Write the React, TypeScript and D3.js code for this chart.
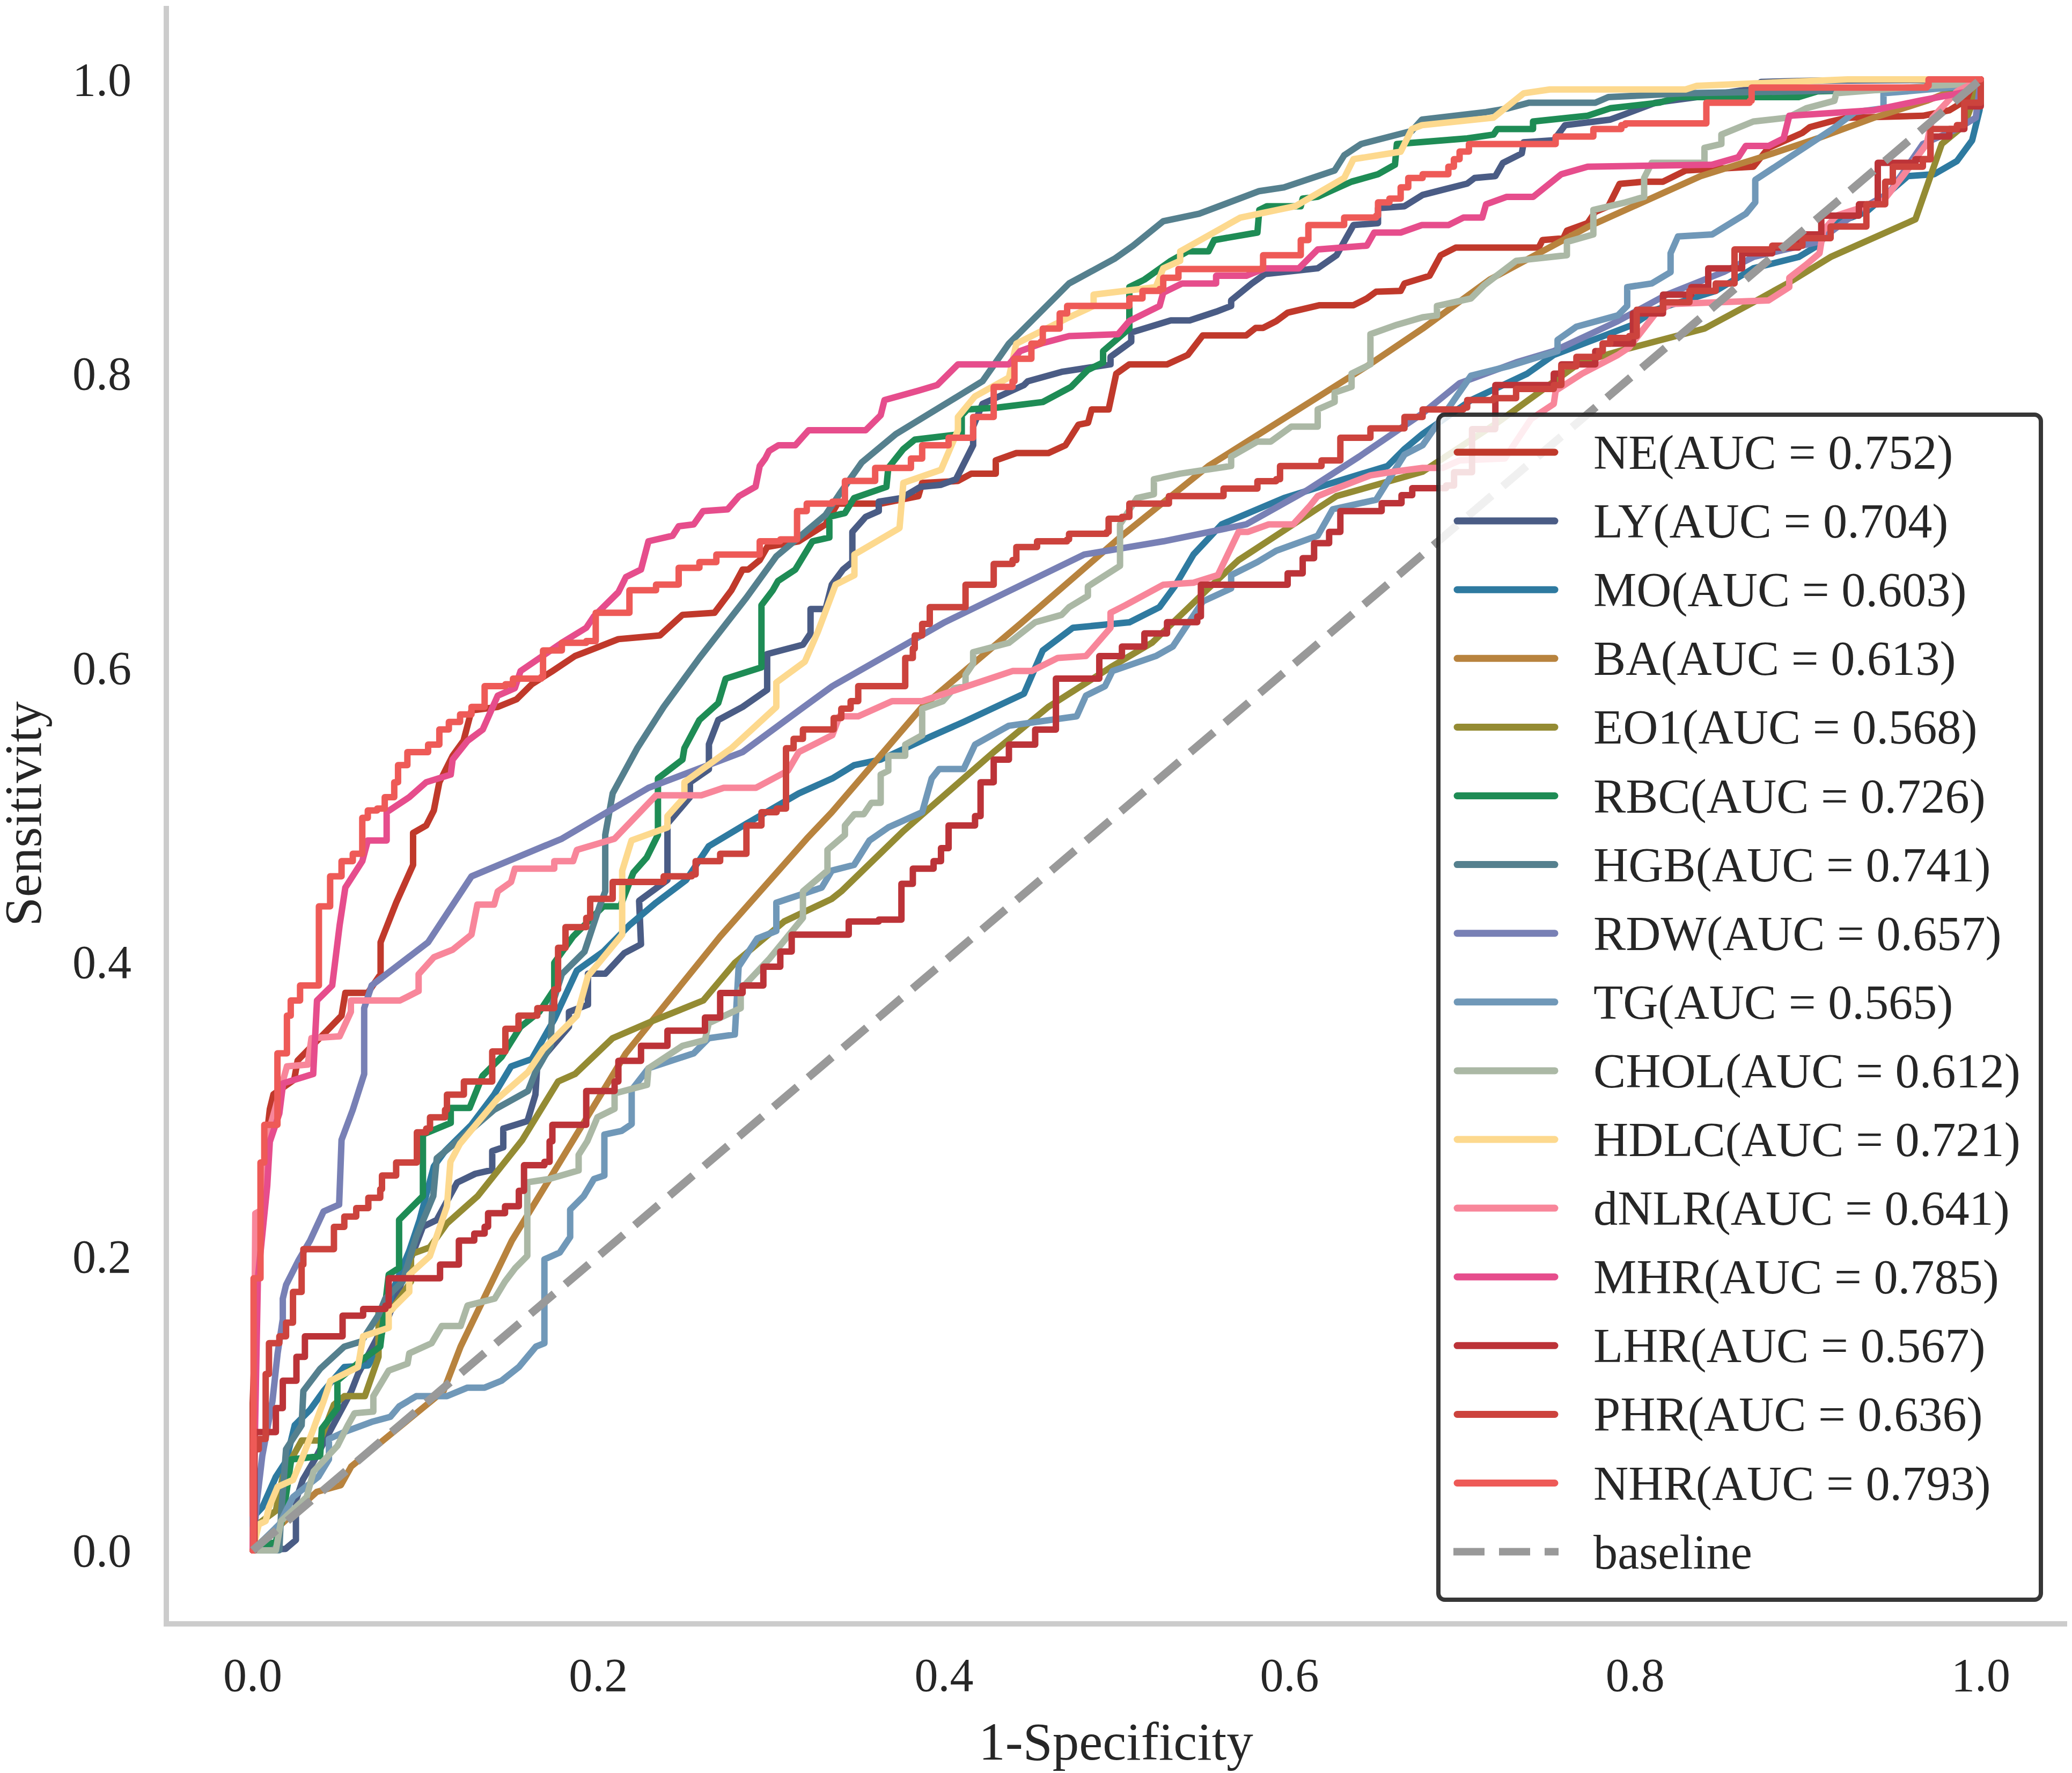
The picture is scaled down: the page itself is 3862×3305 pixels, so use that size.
import React from "react";
import * as d3 from "d3";

type Pt = [number, number];

const NE: Pt[] = [[0,0],[0,.1],[.003,.2],[.008,.28],[.0099,.3],[.012,.31],[.024,.32],[.026,.333],[.043,.3533],[.0514,.3635],[.0536,.379],[.0666,.379],[.074,.3917],[.074,.4134],[.083,.4403],[.0928,.466],[.0928,.4877],[.1004,.4928],[.1048,.503],[.108,.5222],[.1156,.54],[.122,.5504],[.1266,.571],[.1418,.5734],[.1527,.5786],[.1615,.5888],[.1735,.5978],[.1865,.608],[.195,.6118],[.2116,.6195],[.2356,.622],[.2487,.636],[.2672,.6374],[.277,.6527],[.2835,.6668],[.2868,.6668],[.2934,.6732],[.2977,.6821],[.316,.686],[.3315,.6975],[.3384,.7116],[.3634,.7116],[.3852,.7167],[.3874,.7257],[.4081,.727],[.4158,.732],[.43,.732],[.43,.741],[.4419,.746],[.4605,.746],[.4703,.7513],[.4779,.7653],[.4834,.7666],[.4855,.7756],[.4953,.7756],[.4997,.7999],[.5073,.8063],[.5291,.8063],[.5411,.8127],[.5498,.826],[.5749,.826],[.5804,.8311],[.5847,.8311],[.5923,.8357],[.5989,.8414],[.6174,.8465],[.637,.8465],[.6447,.8511],[.6501,.8557],[.6643,.8562],[.6665,.8613],[.681,.8665],[.6875,.8805],[.6962,.8857],[.7442,.8857],[.7464,.8908],[.7584,.892],[.7605,.8972],[.7725,.9023],[.7769,.91],[.7845,.9138],[.791,.929],[.8052,.9305],[.8161,.9305],[.8292,.9381],[.8684,.9407],[.8772,.9535],[.8968,.9637],[.9011,.9676],[.9131,.9714],[.923,.974],[.9665,.9753],[.9818,.979],[.9927,.9868],[1,1]];

const LY: Pt[] = [[0,0],[.019,.001],[.025,.007],[.025,.034],[.029,.048],[.036,.062],[.057,.108],[.061,.12],[.079,.16],[.0985,.22],[.1065,.2246],[.1183,.25],[.1288,.256],[.1386,.2586],[.1386,.2714],[.145,.274],[.145,.2867],[.159,.2918],[.1636,.3098],[.1647,.3302],[.17,.338],[.183,.356],[.183,.366],[.194,.371],[.194,.392],[.204,.392],[.215,.406],[.2247,.412],[.2236,.4416],[.24,.4557],[.24,.494],[.253,.512],[.253,.522],[.264,.531],[.264,.548],[.2694,.5645],[.2835,.5734],[.2977,.585],[.2977,.6093],[.3184,.6157],[.3228,.6234],[.3228,.64],[.3315,.64],[.3351,.6565],[.3416,.6668],[.347,.672],[.347,.6924],[.3547,.7026],[.3623,.7065],[.3623,.7129],[.3754,.7154],[.3863,.723],[.3983,.7244],[.407,.7282],[.4169,.7513],[.4169,.764],[.4223,.7794],[.4463,.7922],[.4485,.7948],[.4681,.8012],[.4964,.8063],[.4964,.8114],[.5084,.8217],[.5084,.828],[.5313,.8362],[.5422,.8362],[.5575,.8421],[.5662,.846],[.5662,.8498],[.5782,.8613],[.5858,.8677],[.6163,.8716],[.6272,.8805],[.637,.901],[.6512,.9023],[.6512,.9125],[.6665,.9138],[.677,.9215],[.6897,.9253],[.7028,.9292],[.7071,.933],[.7191,.9343],[.7235,.9433],[.7344,.9497],[.7355,.9573],[.7529,.9586],[.7594,.9689],[.7856,.9727],[.7943,.9765],[.8118,.9842],[.8357,.988],[.8728,.9945],[.8728,.9983],[.9011,.9991],[1,1]];

const MO: Pt[] = [[0,0],[0,.0222],[.0055,.0292],[.0134,.05],[.0193,.0606],[.0243,.085],[.0332,.0955],[.041,.1083],[.053,.1246],[.0669,.1257],[.0728,.1385],[.0807,.1757],[.0906,.2036],[.0966,.2246],[.1048,.261],[.1113,.2714],[.1266,.2893],[.1397,.3098],[.1495,.329],[.1615,.334],[.1745,.361],[.1876,.3942],[.2029,.407],[.218,.425],[.2334,.4403],[.2508,.4557],[.2639,.4787],[.2857,.494],[.316,.5146],[.3354,.5248],[.348,.5338],[.3634,.5376],[.3918,.553],[.4114,.5632],[.4463,.5824],[.4572,.6118],[.4746,.6272],[.5073,.6309],[.5247,.6412],[.5335,.6553],[.5444,.677],[.5607,.6975],[.5967,.7154],[.6316,.7282],[.6567,.7372],[.6665,.7487],[.677,.759],[.705,.782],[.7376,.8],[.7529,.8127],[.7987,.8332],[.8118,.8434],[.8466,.8562],[.8684,.8716],[.8946,.8793],[.9055,.887],[.9164,.9023],[.9338,.91],[.9578,.9343],[.9731,.9356],[.9862,.9445],[.995,.9586],[.9993,.9791],[1,1]];

const BA: Pt[] = [[0,0],[.037,.0397],[.051,.0443],[.057,.057],[.1104,.1083],[.1203,.1385],[.15,.2106],[.1718,.2525],[.216,.338],[.2705,.4173],[.3206,.4838],[.3351,.5018],[.3874,.5734],[.4441,.6298],[.503,.6898],[.5531,.7372],[.6447,.805],[.677,.8306],[.7158,.8639],[.7725,.8997],[.8379,.9343],[.8728,.9471],[.9055,.9599],[.9382,.974],[.9687,.9855],[1,1]];

const EO1: Pt[] = [[0,0],[0,.0152],[.0134,.0269],[.0174,.05],[.0233,.064],[.0283,.0746],[.039,.0746],[.047,.099],[.053,.1048],[.0649,.1048],[.0728,.1315],[.0728,.1618],[.0807,.164],[.0916,.1827],[.0916,.2013],[.1025,.206],[.1124,.2223],[.1302,.2409],[.156,.279],[.1767,.3187],[.1865,.3238],[.2083,.3482],[.231,.3597],[.2607,.3738],[.279,.3994],[.3075,.4275],[.3351,.4429],[.3406,.448],[.3765,.489],[.4288,.5427],[.4604,.5734],[.4964,.6003],[.5204,.617],[.5531,.654],[.5705,.6732],[.6272,.7167],[.677,.7333],[.7202,.7666],[.7682,.8076],[.7943,.8165],[.8401,.8306],[.8684,.8485],[.8881,.8613],[.9131,.8793],[.9622,.9049],[.9774,.9561],[.9905,.9689],[1,1]];

const RBC: Pt[] = [[0,0],[.0134,.006],[.0174,.0222],[.0223,.0618],[.039,.064],[.04,.0827],[.049,.0967],[.049,.1153],[.0629,.1292],[.0738,.1385],[.0787,.1874],[.0847,.192],[.0847,.2246],[.0985,.2409],[.0985,.2827],[.1146,.2906],[.1146,.3008],[.1255,.3008],[.133,.3226],[.144,.3354],[.1549,.3558],[.1658,.366],[.1745,.3814],[.1745,.3994],[.1854,.4173],[.2029,.4378],[.2127,.4378],[.2203,.4608],[.228,.471],[.2345,.4864],[.2345,.5248],[.2487,.5376],[.2498,.5453],[.2585,.5645],[.2694,.576],[.2737,.5926],[.2944,.6003],[.2944,.6426],[.301,.6528],[.304,.659],[.314,.6668],[.3239,.686],[.3337,.6886],[.3337,.7026],[.3427,.7052],[.348,.7154],[.3667,.723],[.3678,.7359],[.3765,.7487],[.3831,.7551],[.4103,.7589],[.4103,.7717],[.4136,.7756],[.431,.7769],[.4572,.7807],[.4735,.7909],[.4833,.8025],[.4921,.8076],[.4921,.8153],[.5073,.8306],[.5073,.8588],[.516,.8639],[.5313,.8767],[.5411,.8831],[.5531,.8831],[.5564,.8908],[.5814,.8959],[.5825,.9113],[.5869,.9138],[.6065,.9138],[.6076,.919],[.6163,.9202],[.6359,.9305],[.6512,.9356],[.661,.942],[.6621,.9561],[.7028,.9599],[.718,.9625],[.7202,.9663],[.7409,.9663],[.7409,.9714],[.7725,.9753],[.7856,.9804],[.8139,.9842],[.8248,.988],[.8946,.988],[.9055,.9919],[.99,.9945],[1,1]];

const HGB: Pt[] = [[0,0],[.0154,.0001],[.0164,.0246],[.0193,.0687],[.0283,.085],[.0293,.1083],[.039,.1234],[.053,.1385],[.0629,.142],[.0728,.16],[.0767,.1711],[.0867,.1827],[.0946,.213],[.1045,.2409],[.1065,.2665],[.122,.2816],[.1397,.2995],[.1593,.3123],[.1636,.3251],[.1724,.343],[.1734,.3712],[.1789,.3917],[.192,.407],[.2007,.4378],[.204,.448],[.204,.4864],[.2083,.5146],[.2225,.5453],[.2378,.5734],[.2585,.6067],[.2857,.6477],[.303,.6758],[.316,.6886],[.3315,.7039],[.3395,.718],[.3525,.7397],[.3722,.7589],[.4223,.7948],[.4376,.8204],[.4724,.8613],[.4986,.878],[.5095,.887],[.5269,.9036],[.5477,.9087],[.5825,.9241],[.5967,.9266],[.6261,.9381],[.6316,.9484],[.6414,.9561],[.6708,.965],[.6766,.9727],[.7137,.9778],[.7267,.9804],[.7387,.9842],[.7769,.9842],[.7845,.988],[.8292,.9906],[.8946,.9919],[.995,.9957],[1,1]];

const RDW: Pt[] = [[0,0],[.0025,.034],[.0055,.064],[.0114,.1013],[.0144,.1339],[.0174,.1571],[.0174,.1711],[.0193,.1804],[.0263,.1967],[.0332,.2106],[.041,.2304],[.05,.235],[.0514,.279],[.0579,.2995],[.0645,.3238],[.0645,.3686],[.0688,.384],[.1015,.4134],[.1266,.4582],[.1789,.4838],[.229,.5184],[.2835,.5427],[.316,.5709],[.3354,.5875],[.4005,.631],[.4812,.677],[.527,.686],[.5749,.6975],[.6098,.7205],[.6403,.7436],[.677,.773],[.6984,.7935],[.7311,.8076],[.7529,.8153],[.79,.8357],[.8183,.8537],[.851,.869],[.8684,.8793],[.9055,.8895],[.9316,.9125],[.9469,.9228],[.9665,.9561],[.9862,.9663],[.9971,.974],[1,1]];

const TG: Pt[] = [[0,0],[.0154,.0176],[.0233,.0362],[.038,.05],[.0441,.0618],[.0441,.0757],[.053,.0804],[.0688,.0873],[.0797,.0908],[.0847,.0978],[.0946,.1048],[.1124,.1048],[.1243,.1106],[.1342,.1106],[.144,.1153],[.154,.1246],[.1639,.1385],[.1688,.1408],[.1688,.1978],[.1777,.2025],[.1837,.213],[.1837,.2316],[.1916,.2409],[.1975,.2525],[.2035,.2548],[.2035,.2827],[.2134,.2851],[.2193,.2897],[.2193,.313],[.229,.3277],[.2552,.3379],[.2639,.3482],[.279,.3507],[.2812,.3968],[.292,.416],[.303,.4211],[.303,.4403],[.3293,.4506],[.3351,.4621],[.348,.466],[.3569,.4826],[.3678,.4915],[.3874,.5018],[.3929,.5248],[.3972,.5312],[.4114,.5312],[.418,.5478],[.4376,.5606],[.4768,.567],[.4822,.5811],[.4932,.5875],[.4975,.5978],[.5226,.608],[.5324,.6144],[.5498,.6451],[.5662,.654],[.5662,.663],[.5814,.6719],[.5923,.6796],[.6163,.6898],[.625,.7078],[.6501,.7142],[.6665,.7449],[.677,.7513],[.705,.7986],[.7267,.805],[.7551,.8153],[.7551,.8229],[.766,.8319],[.79,.8396],[.7954,.846],[.7954,.8588],[.8096,.8613],[.8205,.869],[.8205,.8818],[.8248,.8933],[.8445,.8946],[.8641,.9087],[.8695,.9164],[.8695,.9317],[.9142,.9663],[.9273,.9778],[.9437,.9804],[.9437,.9906],[.995,.9957],[1,1]];

const CHOL: Pt[] = [[0,0],[.0134,.0001],[.0164,.0199],[.0312,.0362],[.0352,.0536],[.049,.071],[.055,.085],[.0589,.0932],[.0698,.0943],[.0698,.1048],[.0787,.1222],[.0896,.1269],[.0906,.1339],[.1035,.1408],[.1094,.1525],[.1203,.1525],[.1243,.1664],[.14,.1711],[.146,.1827],[.152,.192],[.1589,.2002],[.1589,.2502],[.1718,.2525],[.1886,.2583],[.1886,.2688],[.1936,.2781],[.1995,.2944],[.2094,.3002],[.2094,.3106],[.2282,.3165],[.229,.3277],[.2487,.343],[.2617,.3469],[.2639,.3584],[.2824,.3686],[.2824,.3814],[.2988,.4019],[.3184,.43],[.3184,.448],[.3326,.4621],[.3326,.4762],[.3427,.4864],[.3427,.4928],[.3482,.5005],[.3536,.5005],[.358,.5082],[.3634,.5082],[.3634,.5274],[.3678,.53],[.3678,.5402],[.3776,.5402],[.3776,.5478],[.3874,.5542],[.3874,.5722],[.3994,.5773],[.406,.5862],[.4125,.5875],[.4125,.5952],[.4169,.6029],[.4169,.6106],[.4376,.617],[.4528,.6309],[.4681,.636],[.4724,.6412],[.4833,.6489],[.4833,.6553],[.5019,.6693],[.5019,.6975],[.5117,.7154],[.5215,.718],[.5215,.7282],[.5367,.732],[.5662,.7372],[.5662,.7436],[.5814,.7538],[.5891,.7538],[.6011,.764],[.6163,.764],[.6163,.7756],[.6261,.7807],[.6261,.7871],[.6359,.791],[.6359,.8],[.6468,.8063],[.6468,.8268],[.6621,.8332],[.677,.8383],[.6853,.8396],[.6853,.846],[.705,.8511],[.7126,.8601],[.7311,.8767],[.7605,.8805],[.7605,.8895],[.7758,.8946],[.7758,.9113],[.7943,.9164],[.8052,.9202],[.8052,.933],[.8096,.9433],[.8401,.9433],[.8401,.9535],[.8499,.9561],[.8499,.9625],[.8684,.9714],[.8881,.974],[.899,.9804],[.9153,.9855],[.9164,.9906],[.9709,.9957],[.995,.997],[1,1]];

const HDLC: Pt[] = [[0,0],[.0035,.0176],[.0075,.0199],[.0094,.0292],[.0144,.0432],[.0233,.0478],[.0283,.0618],[.0352,.0827],[.041,.1013],[.045,.1153],[.0609,.1246],[.0639,.1455],[.0787,.1513],[.0787,.1618],[.0906,.1757],[.0906,.1874],[.1025,.2],[.1124,.2339],[.1144,.2641],[.12,.2765],[.1418,.3072],[.1593,.3251],[.168,.3405],[.1876,.3635],[.194,.3904],[.2138,.4186],[.2138,.462],[.2192,.4826],[.24,.4915],[.24,.4992],[.2498,.512],[.2498,.5222],[.277,.5453],[.303,.5734],[.303,.59],[.3195,.6042],[.327,.6244],[.3373,.6565],[.3482,.663],[.3482,.677],[.3743,.695],[.3765,.7257],[.3983,.7346],[.4081,.7615],[.4081,.7705],[.4179,.7845],[.4376,.7973],[.4419,.8204],[.4724,.8383],[.4866,.846],[.4866,.8537],[.5226,.8588],[.5269,.8716],[.5367,.8767],[.5367,.8831],[.5716,.9061],[.6033,.9138],[.6316,.933],[.637,.9458],[.6643,.9509],[.6708,.9663],[.6766,.9689],[.718,.974],[.7355,.9906],[.7507,.9932],[.8292,.9932],[.8357,.9957],[.923,1],[1,1]];

const dNLR: Pt[] = [[0,0],[.0015,.229],[.0055,.2316],[.0094,.2851],[.0198,.329],[.0318,.3302],[.034,.3482],[.0503,.3495],[.0568,.3661],[.0568,.3738],[.0852,.3738],[.096,.3802],[.096,.3917],[.1048,.4032],[.1157,.4083],[.1266,.4186],[.13,.439],[.1397,.439],[.1418,.448],[.1495,.4544],[.1517,.4634],[.1745,.4634],[.1745,.4685],[.1854,.4685],[.1876,.4762],[.2094,.4838],[.2334,.5133],[.2596,.5133],[.2726,.5184],[.2912,.5184],[.3097,.53],[.316,.5427],[.3354,.5542],[.3395,.567],[.3504,.567],[.37,.5773],[.3874,.5773],[.4397,.5978],[.4507,.5978],[.4659,.6067],[.4822,.608],[.4964,.6272],[.4964,.6374],[.5051,.6426],[.5269,.6565],[.5444,.6578],[.5585,.663],[.5705,.6924],[.576,.6924],[.588,.6975],[.6021,.6975],[.6119,.7103],[.6163,.7167],[.6294,.723],[.6468,.7308],[.6599,.7333],[.677,.7359],[.6886,.7359],[.6984,.741],[.7246,.7423],[.7398,.7692],[.7529,.7794],[.754,.7884],[.7693,.8],[.79,.8127],[.7965,.8178],[.8118,.8409],[.8205,.8473],[.8772,.8498],[.8892,.8588],[.8892,.8652],[.899,.8741],[.9067,.8818],[.9088,.8972],[.9164,.9074],[.9437,.9177],[.9557,.9356],[.9687,.9561],[.972,.974],[.9862,.9919],[1,1]];

const MHR: Pt[] = [[0,0],[.003,.185],[.0084,.2478],[.0099,.2778],[.0154,.297],[.0176,.3175],[.035,.3238],[.0372,.3738],[.046,.384],[.0503,.425],[.0536,.4506],[.0634,.4685],[.0666,.4826],[.0775,.4826],[.0775,.5018],[.0906,.512],[.1004,.5222],[.1146,.5274],[.1157,.5376],[.1244,.5504],[.1331,.558],[.1418,.5811],[.1517,.5862],[.155,.5978],[.1789,.617],[.193,.6272],[.1974,.6349],[.2116,.6514],[.216,.6617],[.2247,.6668],[.229,.686],[.243,.6898],[.2465,.6962],[.2552,.6975],[.2606,.7065],[.2748,.7077],[.2814,.7167],[.291,.7231],[.2934,.7372],[.2966,.7423],[.2988,.7474],[.3043,.7513],[.314,.7513],[.3217,.7615],[.3547,.7615],[.3634,.7717],[.3656,.782],[.3852,.7884],[.3961,.7922],[.4081,.8063],[.4376,.8063],[.4441,.8153],[.4561,.8204],[.4724,.8255],[.5008,.8268],[.5073,.8358],[.5248,.846],[.5269,.855],[.5378,.8613],[.5575,.8613],[.5575,.8665],[.5749,.8665],[.5858,.8716],[.6054,.8716],[.6163,.8844],[.6447,.887],[.649,.8959],[.6643,.8959],[.6766,.901],[.6919,.901],[.7006,.9061],[.7115,.9061],[.7137,.9151],[.7257,.9202],[.741,.9202],[.7573,.9356],[.7725,.9407],[.8445,.942],[.8597,.9471],[.864,.9548],[.8772,.9548],[.8859,.9599],[.8892,.9753],[.9382,.9791],[.9644,.9855],[.9818,.9893],[.9927,.9919],[1,1]];

const LHR: Pt[] = [[0,0],[.001,.0804],[.0114,.0804],[.0134,.0967],[.0174,.1153],[.0253,.1222],[.0253,.1315],[.0302,.1455],[.05,.1455],[.052,.1595],[.0639,.1641],[.0768,.1664],[.0787,.185],[.1005,.185],[.1084,.1943],[.1193,.1955],[.1193,.2106],[.1282,.2153],[.1342,.22],[.1362,.2292],[.146,.2339],[.154,.2444],[.157,.2618],[.1688,.2641],[.1718,.2781],[.1734,.2893],[.1898,.2893],[.193,.3123],[.2094,.3187],[.2116,.3328],[.2247,.343],[.24,.3533],[.2617,.3622],[.2705,.3789],[.2835,.384],[.2955,.3968],[.3053,.4071],[.3119,.4186],[.3351,.4186],[.3449,.4275],[.3623,.4288],[.3754,.4531],[.382,.4634],[.394,.4685],[.3983,.4774],[.4027,.4928],[.418,.4992],[.4212,.5222],[.4288,.5376],[.4376,.5478],[.4528,.558],[.4648,.5734],[.4648,.5926],[.4746,.5926],[.4899,.608],[.503,.6144],[.516,.6234],[.5291,.631],[.5466,.6349],[.5487,.6565],[.5891,.6565],[.5989,.6642],[.6076,.6745],[.6142,.6847],[.6229,.6924],[.6294,.7065],[.6533,.7119],[.6648,.7174],[.671,.7221],[.6849,.7221],[.6906,.7239],[.6952,.733],[.7056,.7622],[.719,.7633],[.7191,.7922],[.7518,.7922],[.7529,.8],[.7573,.8063],[.7769,.8153],[.7812,.8204],[.7987,.8281],[.7987,.8409],[.8161,.8537],[.8325,.8588],[.8423,.8716],[.8619,.8818],[.8793,.8857],[.8946,.8946],[.9077,.9074],[.9295,.9151],[.9404,.933],[.9404,.9433],[.9622,.9458],[.9709,.9612],[.9818,.9663],[.9905,.9817],[1,1]];

const PHR: Pt[] = [[0,0],[.0005,.0687],[.0035,.0757],[.0075,.1199],[.0094,.1408],[.0154,.1455],[.0193,.1548],[.0233,.1757],[.0283,.1943],[.0293,.2048],[.047,.2048],[.047,.2199],[.053,.2269],[.0599,.2327],[.0669,.2397],[.0738,.2455],[.0748,.2548],[.083,.2637],[.095,.265],[.095,.2842],[.1004,.2867],[.1026,.2944],[.1113,.2995],[.1124,.3098],[.1222,.3123],[.1222,.3187],[.1364,.3187],[.1386,.3392],[.1462,.3405],[.1462,.3546],[.1538,.3635],[.1647,.3686],[.1745,.3814],[.1767,.4096],[.181,.4237],[.193,.43],[.1953,.4429],[.2083,.4442],[.2083,.4544],[.2378,.4544],[.2378,.4582],[.2541,.4595],[.2563,.4685],[.2705,.4685],[.2705,.4736],[.2835,.4736],[.2857,.4928],[.2944,.5018],[.3032,.5043],[.3086,.5082],[.3086,.5453],[.313,.5517],[.3184,.5581],[.3354,.5581],[.3362,.5658],[.3406,.5722],[.346,.5773],[.3504,.5875],[.3776,.5875],[.3776,.6067],[.382,.6131],[.3831,.622],[.3874,.6298],[.3918,.6412],[.4125,.6412],[.4125,.6565],[.4256,.6565],[.4288,.6706],[.4397,.6732],[.4419,.6821],[.4528,.6821],[.4539,.686],[.4713,.6873],[.4724,.6911],[.4942,.6924],[.4953,.7013],[.503,.7026],[.5073,.7116],[.5302,.7129],[.5302,.7167],[.5618,.718],[.5618,.7218],[.5814,.723],[.5814,.7269],[.5923,.7282],[.5945,.7372],[.6185,.7372],[.6185,.741],[.6294,.7423],[.6294,.7564],[.6468,.7577],[.6468,.7628],[.6665,.764],[.6665,.7705],[.677,.7756],[.7006,.7769],[.7028,.782],[.718,.7833],[.7311,.7896],[.7529,.7922],[.7573,.805],[.766,.8114],[.7791,.8153],[.7812,.8204],[.7856,.8242],[.7965,.8255],[.8009,.8434],[.8161,.8485],[.8314,.8562],[.8466,.8613],[.8575,.8844],[.8793,.887],[.8968,.8921],[.9131,.9],[.9338,.9151],[.9447,.9305],[.9491,.9407],[.9665,.9458],[.9709,.9663],[.9862,.9689],[.9905,.9842],[1,1]];

const NHR: Pt[] = [[0,0],[.0005,.185],[.0045,.2637],[.0067,.2893],[.011,.2893],[.0143,.3379],[.0198,.3635],[.022,.3738],[.0274,.384],[.0383,.384],[.0383,.4378],[.0448,.448],[.0448,.4582],[.0514,.4685],[.0579,.4736],[.0634,.489],[.0634,.498],[.0666,.503],[.072,.5043],[.0764,.512],[.0819,.5222],[.0841,.5338],[.0895,.5427],[.1015,.5478],[.108,.5581],[.1135,.5632],[.12,.5683],[.1266,.5734],[.1342,.5875],[.1462,.5888],[.1506,.5926],[.167,.5939],[.168,.6118],[.1789,.617],[.193,.6182],[.1985,.6374],[.216,.6374],[.218,.6527],[.2323,.6527],[.2334,.6566],[.2443,.6566],[.2465,.668],[.2585,.668],[.2585,.6719],[.2683,.6732],[.2683,.677],[.29,.677],[.2934,.686],[.3053,.6873],[.315,.6937],[.315,.7065],[.3206,.7077],[.3206,.7116],[.3354,.7129],[.3427,.727],[.358,.727],[.3602,.7359],[.3809,.7372],[.3809,.7423],[.3874,.7513],[.4016,.7513],[.4027,.7564],[.4169,.7577],[.4169,.7705],[.4288,.7717],[.4288,.791],[.4397,.7948],[.4408,.8101],[.4506,.8127],[.4506,.8204],[.456,.8217],[.4572,.8306],[.467,.832],[.467,.8409],[.4713,.846],[.5051,.846],[.5073,.8511],[.5149,.8511],[.5149,.8562],[.5248,.8575],[.5269,.8652],[.5357,.8665],[.5357,.8711],[.5836,.8716],[.5847,.8805],[.6054,.8805],[.6065,.8908],[.6109,.901],[.6316,.9023],[.6316,.9061],[.6501,.9074],[.6512,.9164],[.6578,.919],[.6643,.9266],[.6687,.933],[.677,.9356],[.6919,.9407],[.6951,.9458],[.6984,.951],[.7038,.9561],[.7529,.9561],[.754,.9612],[.7747,.9612],[.7758,.9663],[.792,.9689],[.7943,.9701],[.8401,.9701],[.8412,.9842],[.8663,.9855],[.8674,.9945],[.9687,.9957],[.9698,1],[1,1]];

const BASELINE: Pt[] = [[0,0],[1,1]];

const seriesNames = ["NE","LY","MO","BA","EO1","RBC","HGB","RDW","TG","CHOL","HDLC","dNLR","MHR","LHR","PHR","NHR"];
const seriesAuc = ["0.752","0.704","0.603","0.613","0.568","0.726","0.741","0.657","0.565","0.612","0.721","0.641","0.785","0.567","0.636","0.793"];
const seriesColors = ["#C0392B","#4A5C85","#2E7AA0","#B8833E","#948B33","#1E8C55","#55808E","#7880B5","#7098B8","#ABB8A5","#FDD98E","#F8869A","#E64D8C","#BC3338","#CC433D","#EE5A57"];
const seriesData = [NE,LY,MO,BA,EO1,RBC,HGB,RDW,TG,CHOL,HDLC,dNLR,MHR,LHR,PHR,NHR];
const steppedSeries = ["LHR","PHR","NHR"];
const tickValues = [0,0.2,0.4,0.6,0.8,1.0];

const W = 3862, H = 3305;
const FONT = "'Liberation Serif','Times New Roman',serif";
const TXT = "#262626";
const SPINE = "#CCCCCC";

export default function App() {
  const x = d3.scaleLinear().domain([-0.05,1.05]).range([310,3853]);
  const y = d3.scaleLinear().domain([-0.05,1.05]).range([3027,11]);
  const linear = d3.line<Pt>().x(d=>x(d[0])).y(d=>y(d[1])).curve(d3.curveLinear);
  const stepped = d3.line<Pt>().x(d=>x(d[0])).y(d=>y(d[1])).curve(d3.curveStepAfter);
  const LEG = {l:2681,t:773,r:3804,b:2982,first:843,step:128.1,h0:2716,h1:2898,tx:2970};
  return (
    <svg width={W} height={H} viewBox={`0 0 ${W} ${H}`} style={{position:"absolute",left:0,top:0,background:"#fff"}} fontFamily={FONT}>
      <rect x={0} y={0} width={W} height={H} fill="#fff"/>
      <line x1={x(-0.05)} x2={x(-0.05)} y1={y(1.05)} y2={y(-0.05)+5} stroke={SPINE} strokeWidth={10}/>
      <line x1={x(-0.05)-5} x2={x(1.05)} y1={y(-0.05)} y2={y(-0.05)} stroke={SPINE} strokeWidth={10}/>
      {tickValues.map(t=>(
        <text key={"x"+t} x={x(t)} y={y(-0.05)+125} fontSize={88} fill={TXT} textAnchor="middle">{t.toFixed(1)}</text>
      ))}
      {tickValues.map(t=>(
        <text key={"y"+t} x={245} y={y(t)+30} fontSize={88} fill={TXT} textAnchor="end">{t.toFixed(1)}</text>
      ))}
      <text x={2080} y={3280} fontSize={99} fill={TXT} textAnchor="middle">1-Specificity</text>
      <text transform="translate(76,1517) rotate(-90)" fontSize={98} fill={TXT} textAnchor="middle">Sensitivity</text>
      {seriesData.map((d,i)=>(
        <path key={seriesNames[i]} d={(steppedSeries.includes(seriesNames[i])?stepped:linear)(d) as string} fill="none" stroke={seriesColors[i]} strokeWidth={12} strokeLinejoin="round" strokeLinecap="round"/>
      ))}
      <path d={linear(BASELINE) as string} fill="none" stroke="#999999" strokeWidth={15} strokeDasharray="58 27"/>
      <rect x={LEG.l} y={LEG.t} width={LEG.r-LEG.l} height={LEG.b-LEG.t} rx={12} ry={12} fill="#fff" fillOpacity={0.85} stroke="#262626" strokeOpacity={0.92} strokeWidth={8}/>
      {seriesNames.map((n,i)=>{
        const ly = LEG.first+i*LEG.step;
        return (
          <g key={"leg"+n}>
            <line x1={LEG.h0} x2={LEG.h1} y1={ly} y2={ly} stroke={seriesColors[i]} strokeWidth={13} strokeLinecap="round"/>
            <text x={LEG.tx} y={ly+31} fontSize={90.3} fill={TXT}>{`${n}(AUC = ${seriesAuc[i]})`}</text>
          </g>
        );
      })}
      <line x1={LEG.h0-7} x2={LEG.h1+7} y1={LEG.first+16*LEG.step} y2={LEG.first+16*LEG.step} stroke="#999999" strokeWidth={14} strokeDasharray="58 27"/>
      <text x={LEG.tx} y={LEG.first+16*LEG.step+31} fontSize={90.3} fill={TXT}>baseline</text>
    </svg>
  );
}
